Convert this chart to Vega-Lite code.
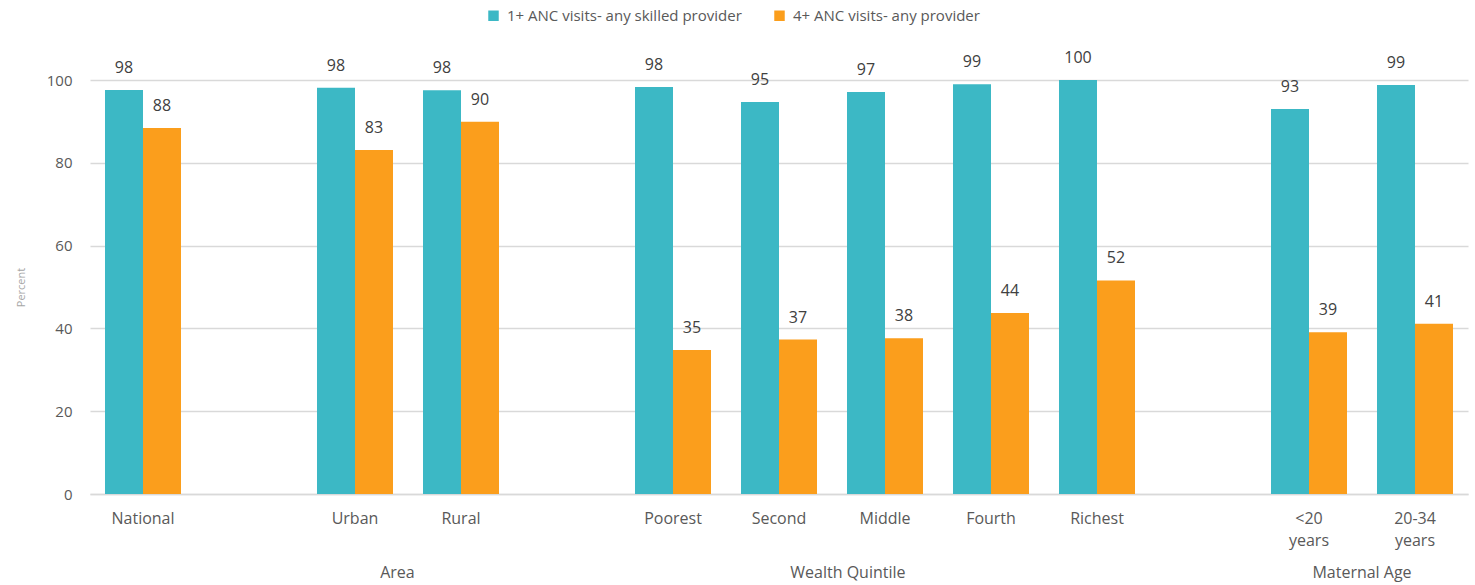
{
  "$schema": "https://vega.github.io/schema/vega-lite/v6.json",
  "width": 1378,
  "height": 414,
  "autosize": {"type": "none"},
  "padding": {"left": 90, "top": 80, "right": 7, "bottom": 91},
  "background": "white",
  "config": {
    "view": {"stroke": null},
    "font": "Open Sans",
    "axis": {"labelFont": "Open Sans", "titleFont": "Open Sans"},
    "legend": {"labelFont": "Open Sans"}
  },
  "layer": [
    {
      "data": {
        "values": [
          {"cat": "National", "series": "1+ ANC visits- any skilled provider", "value": 97.6},
          {"cat": "National", "series": "4+ ANC visits- any provider", "value": 88.4},
          {"cat": "Urban", "series": "1+ ANC visits- any skilled provider", "value": 98.1},
          {"cat": "Urban", "series": "4+ ANC visits- any provider", "value": 83.1},
          {"cat": "Rural", "series": "1+ ANC visits- any skilled provider", "value": 97.5},
          {"cat": "Rural", "series": "4+ ANC visits- any provider", "value": 89.9},
          {"cat": "Poorest", "series": "1+ ANC visits- any skilled provider", "value": 98.3},
          {"cat": "Poorest", "series": "4+ ANC visits- any provider", "value": 34.8},
          {"cat": "Second", "series": "1+ ANC visits- any skilled provider", "value": 94.7},
          {"cat": "Second", "series": "4+ ANC visits- any provider", "value": 37.3},
          {"cat": "Middle", "series": "1+ ANC visits- any skilled provider", "value": 97.1},
          {"cat": "Middle", "series": "4+ ANC visits- any provider", "value": 37.6},
          {"cat": "Fourth", "series": "1+ ANC visits- any skilled provider", "value": 99.0},
          {"cat": "Fourth", "series": "4+ ANC visits- any provider", "value": 43.7},
          {"cat": "Richest", "series": "1+ ANC visits- any skilled provider", "value": 100.0},
          {"cat": "Richest", "series": "4+ ANC visits- any provider", "value": 51.6},
          {"cat": "<20 years", "series": "1+ ANC visits- any skilled provider", "value": 93.0},
          {"cat": "<20 years", "series": "4+ ANC visits- any provider", "value": 39.1},
          {"cat": "20-34 years", "series": "1+ ANC visits- any skilled provider", "value": 98.8},
          {"cat": "20-34 years", "series": "4+ ANC visits- any provider", "value": 41.1}
        ]
      },
      "encoding": {
        "x": {
          "field": "cat",
          "type": "nominal",
          "sort": null,
          "scale": {
            "domain": ["National", "gap1", "Urban", "Rural", "gap2", "Poorest", "Second", "Middle", "Fourth", "Richest", "gap3", "<20 years", "20-34 years"],
            "paddingInner": 0.283,
            "paddingOuter": 0.1415
          },
          "axis": {
            "title": null,
            "labelAngle": 0,
            "ticks": false,
            "domainColor": "#D9D9D9",
            "domainWidth": 1.5,
            "labelColor": "#595959",
            "labelFontSize": 16,
            "labelPadding": 16,
            "labelLineHeight": 22,
            "labelBaseline": "top",
            "labelExpr": "datum.value == '<20 years' ? ['<20', 'years'] : datum.value == '20-34 years' ? ['20-34', 'years'] : indexof(datum.value, 'gap') == 0 ? '' : datum.value"
          }
        },
        "xOffset": {
          "field": "series",
          "type": "nominal",
          "scale": {"paddingInner": 0, "paddingOuter": 0}
        },
        "y": {
          "field": "value",
          "type": "quantitative",
          "scale": {"domain": [0, 100]},
          "axis": {
            "title": "Percent",
            "titleFontSize": 11,
            "titleColor": "#A6A6A6",
            "titleFontWeight": "normal",
            "titlePadding": 20,
            "values": [0, 20, 40, 60, 80, 100],
            "domain": false,
            "ticks": false,
            "gridColor": "#D9D9D9",
            "gridWidth": 1.5,
            "labelColor": "#595959",
            "labelFontSize": 15,
            "labelPadding": 18
          }
        }
      },
      "layer": [
        {
          "mark": {"type": "bar"},
          "encoding": {
            "color": {
              "field": "series",
              "type": "nominal",
              "scale": {
                "domain": ["1+ ANC visits- any skilled provider", "4+ ANC visits- any provider"],
                "range": ["#3CB8C5", "#FB9E1C"]
              },
              "legend": {
                "title": null,
                "orient": "none",
                "direction": "horizontal",
                "legendX": 396,
                "legendY": -72,
                "symbolType": "square",
                "symbolSize": 110,
                "symbolStrokeWidth": 0,
                "labelFontSize": 15,
                "labelColor": "#595959",
                "labelLimit": 0,
                "columnPadding": 30,
                "labelOffset": 6
              }
            }
          }
        },
        {
          "mark": {"type": "text", "baseline": "middle", "dy": -22, "fontSize": 16, "color": "#404040"},
          "encoding": {
            "text": {"field": "value", "type": "quantitative", "format": ".0f"}
          }
        }
      ]
    },
    {
      "data": {
        "values": [
          {"group": "Area", "pos": 2.9},
          {"group": "Wealth Quintile", "pos": 7.15},
          {"group": "Maternal Age", "pos": 12.0}
        ]
      },
      "mark": {"type": "text", "baseline": "middle", "fontSize": 16, "color": "#595959"},
      "encoding": {
        "x": {"field": "pos", "type": "quantitative", "scale": {"domain": [0, 13], "nice": false, "zero": false}, "axis": null},
        "y": {"datum": -19.1},
        "text": {"field": "group"}
      }
    }
  ],
  "resolve": {"scale": {"x": "independent"}}
}
